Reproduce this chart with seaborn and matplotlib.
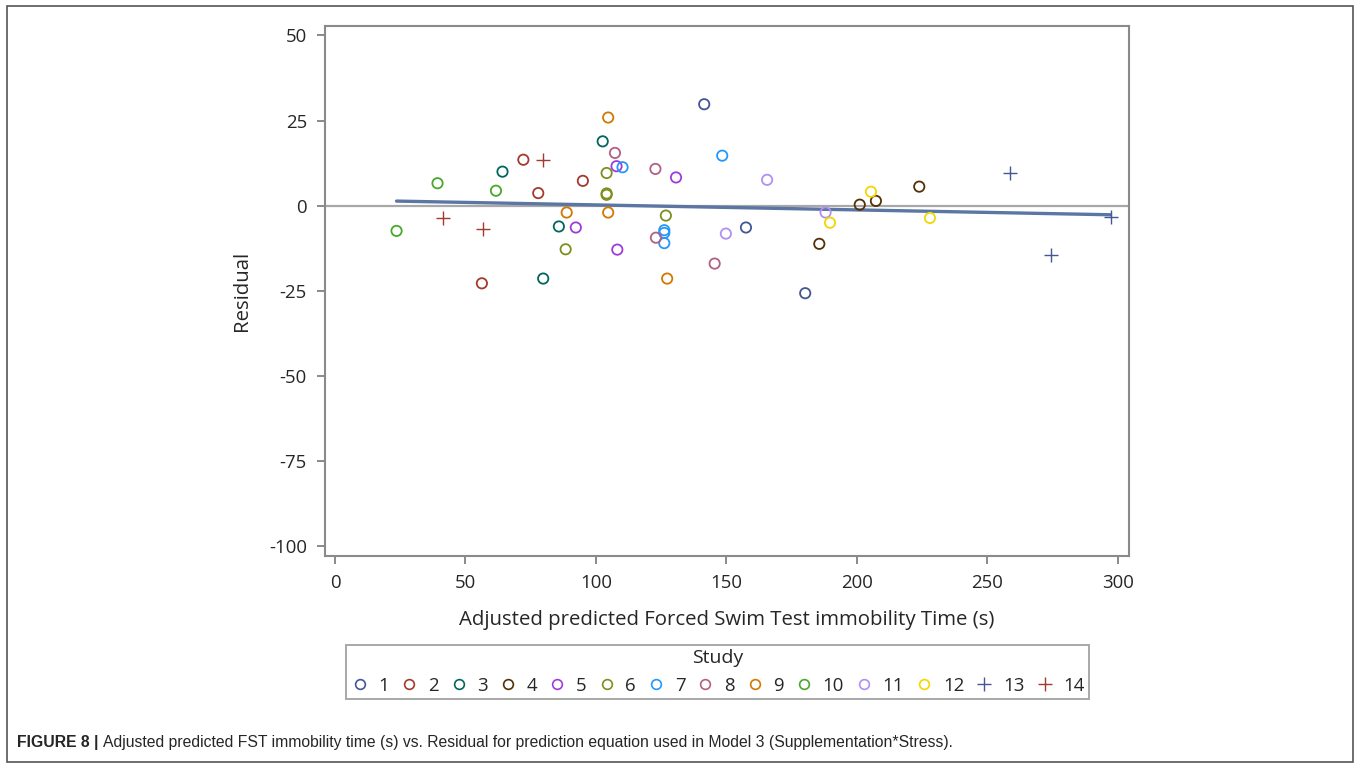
import pandas as pd
import numpy as np
import matplotlib.pyplot as plt
import seaborn as sns
from matplotlib.lines import Line2D
from matplotlib.patches import Rectangle

# Study id of each observation
study = [1, 1, 1,
         2, 2, 2, 2,
         3, 3, 3, 3,
         4, 4, 4, 4,
         5, 5, 5, 5,
         6, 6, 6, 6, 6,
         7, 7, 7, 7, 7,
         8, 8, 8, 8,
         9, 9, 9, 9,
         10, 10, 10,
         11, 11, 11,
         12, 12, 12,
         13, 13, 13,
         14, 14, 14]

# Adjusted predicted FST immobility time (s)
pred_time = [141.5, 157.5, 180.2,
             72.2, 77.9, 56.3, 95.0,
             64.2, 79.8, 85.8, 102.6,
             201.1, 207.3, 223.9, 185.6,
             92.3, 107.9, 130.7, 108.2,
             88.4, 104.1, 104.1, 104.1, 126.8,
             110.2, 126.2, 126.2, 126.2, 148.4,
             107.3, 122.8, 123.0, 145.5,
             104.7, 88.8, 104.7, 127.3,
             23.6, 39.3, 61.7,
             165.6, 149.8, 188.0,
             205.4, 189.7, 228.0,
             258.6, 274.3, 297.2,
             41.3, 79.6, 56.8]

# Residual
residual = [29.8, -6.4, -25.7,
            13.5, 3.7, -22.8, 7.3,
            10.0, -21.4, -6.1, 18.9,
            0.3, 1.4, 5.6, -11.2,
            -6.4, 11.6, 8.3, -12.9,
            -12.8, 9.6, 3.6, 3.2, -2.9,
            11.3, -7.2, -8.0, -11.0, 14.7,
            15.5, 10.8, -9.4, -17.0,
            25.9, -2.0, -2.0, -21.4,
            -7.4, 6.6, 4.4,
            7.6, -8.2, -2.0,
            4.1, -5.0, -3.6,
            9.6, -14.5, -3.3,
            -3.7, 13.5, -6.7]

study_ids = list(range(1, 15))
study_colors = ['#445694', '#A23A2E', '#01665E', '#543005', '#9D3CDB', '#7F8E1F',
                '#2597FA', '#B26084', '#D17800', '#47A82A', '#B38EF3', '#F0D800',
                '#445694', '#A23A2E']
study_markers = ['o'] * 12 + ['+', '+']

df = pd.DataFrame({'study': study, 'pred_time': pred_time, 'residual': residual})

sns.set_style('ticks')
plt.rcParams['font.family'] = ['Open Sans', 'DejaVu Sans']
plt.rcParams['axes.unicode_minus'] = False
axis_gray = '#8a8a8a'

fig = plt.figure(figsize=(13.6, 7.65), dpi=100)
ax = fig.add_axes([0.239, 0.2736, 0.591, 0.6925])

# zero reference line
ax.axhline(0, color='#a8a8a8', lw=1.6, zorder=1)

# points, one study at a time
for sid, col, mk in zip(study_ids, study_colors, study_markers):
    sub = df[df.study == sid]
    if mk == 'o':
        sns.scatterplot(x='pred_time', y='residual', data=sub, ax=ax, marker='o',
                        s=55, facecolors='none', edgecolor=col, color=col,
                        linewidth=1.3, zorder=3)
    else:
        sns.scatterplot(x='pred_time', y='residual', data=sub, ax=ax, marker='+',
                        s=90, color=col, linewidth=1.0, zorder=3)

# fitted line of residual on predicted time
sns.regplot(x='pred_time', y='residual', data=df, ax=ax, scatter=False, ci=None,
            color='#5b76a3', line_kws={'lw': 2.4, 'zorder': 2})

ax.set_xlim(-3.8, 304.2)
ax.set_ylim(-102.8, 52.8)
ax.set_xticks([0, 50, 100, 150, 200, 250, 300])
ax.set_yticks([50, 25, 0, -25, -50, -75, -100])
ax.set_xlabel('Adjusted predicted Forced Swim Test immobility Time (s)', fontsize=14.7, labelpad=13)
ax.set_ylabel('Residual', fontsize=14.7, labelpad=12)
ax.tick_params(axis='both', labelsize=13.4, color=axis_gray, width=1.4, length=6,
               direction='out', pad=7)
for sp in ax.spines.values():
    sp.set_color(axis_gray)
    sp.set_linewidth(1.5)

# legend below the plot
handles = []
for sid, col, mk in zip(study_ids, study_colors, study_markers):
    if mk == 'o':
        h = Line2D([], [], ls='none', marker='o', ms=7, mfc='none', mec=col, mew=1.2)
    else:
        h = Line2D([], [], ls='none', marker='+', ms=10, mec=col, mew=1.0)
    handles.append(h)
leg = fig.legend(handles, [str(s) for s in study_ids], title='Study', ncol=14,
                 loc='center', bbox_to_anchor=(0.5276, 0.1216), fontsize=13.4,
                 title_fontsize=14, handlelength=1.0, handletextpad=0.5,
                 columnspacing=0.58, borderpad=0.25, frameon=True, fancybox=False)
leg.get_frame().set_edgecolor(axis_gray)
leg.get_frame().set_linewidth(1.3)

# caption and outer frame
cap_font = ['Liberation Sans Narrow', 'Liberation Sans', 'DejaVu Sans']
t1 = fig.text(17 / 1360, 1 - 742 / 765, 'FIGURE 8 |', fontsize=11.3, fontweight='bold',
              family=cap_font, va='center', ha='left')
fig.canvas.draw()
bb = t1.get_window_extent()
fig.text((bb.x1 + 5) / 1360, 1 - 742 / 765,
         'Adjusted predicted FST immobility time (s) vs. Residual for prediction equation '
         'used in Model 3 (Supplementation*Stress).',
         fontsize=11.3, family=cap_font, va='center', ha='left')
fig.patches.append(Rectangle((7 / 1360, 1 - 762 / 765), 1346 / 1360, 756 / 765,
                             transform=fig.transFigure, fill=False,
                             edgecolor='#555555', lw=1.2))

fig.savefig('out.png', dpi=100)
